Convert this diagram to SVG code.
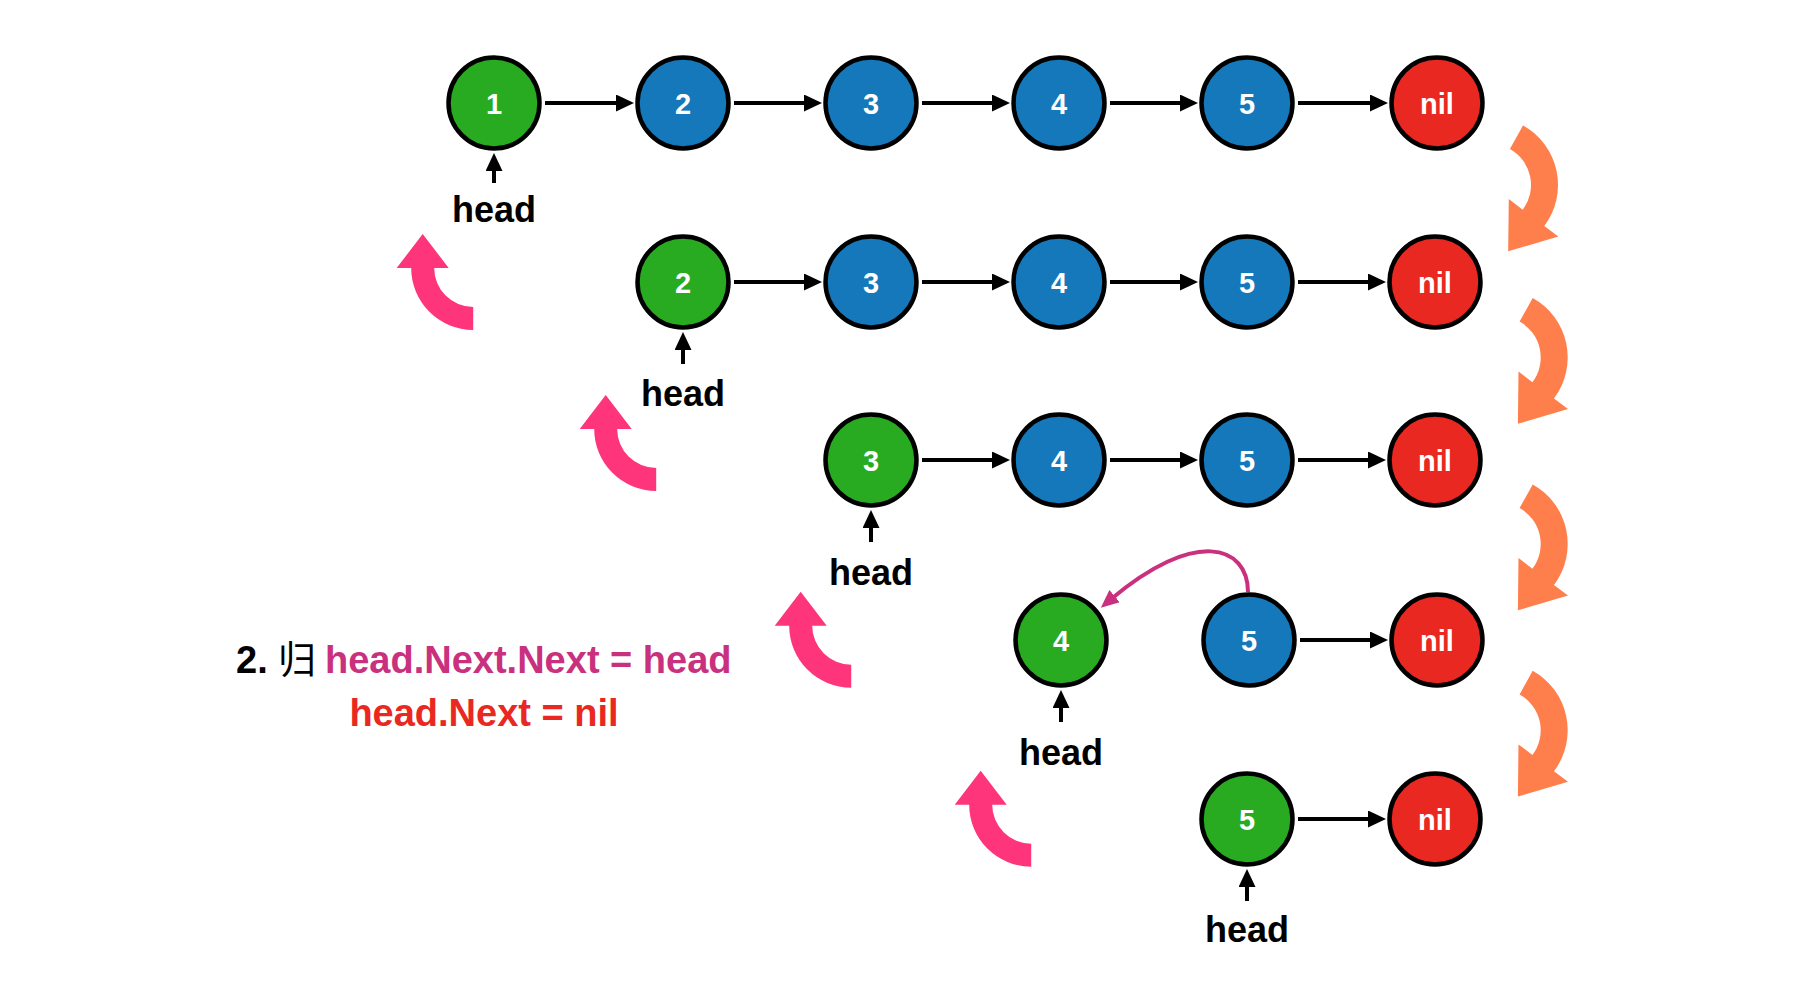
<svg xmlns="http://www.w3.org/2000/svg" width="1796" height="1006" viewBox="0 0 1796 1006">
<style>
.n{stroke:#000;stroke-width:4.5}
.g{fill:#28AB21}.b{fill:#1578BA}.r{fill:#EA2822}
.lbl{font-family:"Liberation Sans",Arial,sans-serif;font-weight:bold;font-size:29px;fill:#fff;text-anchor:middle}
.hd{font-family:"Liberation Sans",Arial,sans-serif;font-weight:bold;font-size:36px;fill:#000;text-anchor:middle}
.ln{stroke:#000;stroke-width:4;fill:none;marker-end:url(#ah)}
.cap{font-family:"Liberation Sans","Noto Sans CJK SC",sans-serif;font-weight:bold;font-size:38px}
</style>
<defs>
<marker id="ah" markerUnits="userSpaceOnUse" viewBox="0 0 18 17" markerWidth="18" markerHeight="17" refX="8" refY="8.5" orient="auto"><path d="M0,0 L18,8.5 L0,17 Z" fill="#000"/></marker>
<marker id="mh" markerUnits="userSpaceOnUse" viewBox="0 0 18 16" markerWidth="18" markerHeight="16" refX="6" refY="8" orient="auto"><path d="M0,0 L18,8 L0,16 Z" fill="#C9317F"/></marker>
<path id="pink" d="M0 0 L26 34 L11.5 34 A39 39 0 0 0 50.5 73 L50.5 96 A62 62 0 0 1 -11.5 34 L-26 34 Z" fill="#FE357B"/>
<path id="orng" d="M33 -59.5 A68 68 0 0 1 54.3 40.9 L68.3 51.5 L18.2 66.3 L18.8 14.1 L32.7 24.7 A41 41 0 0 0 19.9 -35.9 Z" fill="#FE7F4B"/>
</defs>
<rect width="1796" height="1006" fill="#fff"/>
<g id="connectors">
<line class="ln" x1="545" y1="103" x2="624" y2="103"/>
<line class="ln" x1="734" y1="103" x2="812" y2="103"/>
<line class="ln" x1="922" y1="103" x2="1000" y2="103"/>
<line class="ln" x1="1110" y1="103" x2="1188" y2="103"/>
<line class="ln" x1="1298" y1="103" x2="1378" y2="103"/>
<line class="ln" x1="734" y1="282" x2="812" y2="282"/>
<line class="ln" x1="922" y1="282" x2="1000" y2="282"/>
<line class="ln" x1="1110" y1="282" x2="1188" y2="282"/>
<line class="ln" x1="1298" y1="282" x2="1376" y2="282"/>
<line class="ln" x1="922" y1="460" x2="1000" y2="460"/>
<line class="ln" x1="1110" y1="460" x2="1188" y2="460"/>
<line class="ln" x1="1298" y1="460" x2="1376" y2="460"/>
<line class="ln" x1="1300" y1="640" x2="1378" y2="640"/>
<line class="ln" x1="1298" y1="819" x2="1376" y2="819"/>
<line class="ln" x1="494" y1="183" x2="494" y2="163"/>
<line class="ln" x1="683" y1="364" x2="683" y2="342"/>
<line class="ln" x1="871" y1="542" x2="871" y2="520"/>
<line class="ln" x1="1061" y1="722" x2="1061" y2="700"/>
<line class="ln" x1="1247" y1="901" x2="1247" y2="879"/>
<path d="M1248 592 C1248 545 1195 528 1110 600" fill="none" stroke="#C9317F" stroke-width="4" marker-end="url(#mh)"/>
</g>
<g id="back-arrows">
<use href="#pink" x="422.7" y="234"/>
<use href="#pink" x="605.7" y="395"/>
<use href="#pink" x="800.7" y="591.7"/>
<use href="#pink" x="980.7" y="770.7"/>
</g>
<g id="recurse-arrows">
<use href="#orng" x="1490" y="185"/>
<use href="#orng" x="1499.7" y="357.5"/>
<use href="#orng" x="1499.7" y="544"/>
<use href="#orng" x="1499.7" y="730.3"/>
</g>
<g id="row1">
<g id="r1n1"><circle class="n g" cx="494" cy="103" r="45.5"/><text class="lbl" x="494" y="113.5">1</text></g>
<g id="r1n2"><circle class="n b" cx="683" cy="103" r="45.5"/><text class="lbl" x="683" y="113.5">2</text></g>
<g id="r1n3"><circle class="n b" cx="871" cy="103" r="45.5"/><text class="lbl" x="871" y="113.5">3</text></g>
<g id="r1n4"><circle class="n b" cx="1059" cy="103" r="45.5"/><text class="lbl" x="1059" y="113.5">4</text></g>
<g id="r1n5"><circle class="n b" cx="1247" cy="103" r="45.5"/><text class="lbl" x="1247" y="113.5">5</text></g>
<g id="r1nil"><circle class="n r" cx="1437" cy="103" r="45.5"/><text class="lbl" x="1437" y="113.5">nil</text></g>
<text id="r1head" class="hd" x="494" y="222">head</text>
</g>
<g id="row2">
<g id="r2n2"><circle class="n g" cx="683" cy="282" r="45.5"/><text class="lbl" x="683" y="292.5">2</text></g>
<g id="r2n3"><circle class="n b" cx="871" cy="282" r="45.5"/><text class="lbl" x="871" y="292.5">3</text></g>
<g id="r2n4"><circle class="n b" cx="1059" cy="282" r="45.5"/><text class="lbl" x="1059" y="292.5">4</text></g>
<g id="r2n5"><circle class="n b" cx="1247" cy="282" r="45.5"/><text class="lbl" x="1247" y="292.5">5</text></g>
<g id="r2nil"><circle class="n r" cx="1435" cy="282" r="45.5"/><text class="lbl" x="1435" y="292.5">nil</text></g>
<text id="r2head" class="hd" x="683" y="406">head</text>
</g>
<g id="row3">
<g id="r3n3"><circle class="n g" cx="871" cy="460" r="45.5"/><text class="lbl" x="871" y="470.5">3</text></g>
<g id="r3n4"><circle class="n b" cx="1059" cy="460" r="45.5"/><text class="lbl" x="1059" y="470.5">4</text></g>
<g id="r3n5"><circle class="n b" cx="1247" cy="460" r="45.5"/><text class="lbl" x="1247" y="470.5">5</text></g>
<g id="r3nil"><circle class="n r" cx="1435" cy="460" r="45.5"/><text class="lbl" x="1435" y="470.5">nil</text></g>
<text id="r3head" class="hd" x="871" y="585">head</text>
</g>
<g id="row4">
<g id="r4n4"><circle class="n g" cx="1061" cy="640" r="45.5"/><text class="lbl" x="1061" y="650.5">4</text></g>
<g id="r4n5"><circle class="n b" cx="1249" cy="640" r="45.5"/><text class="lbl" x="1249" y="650.5">5</text></g>
<g id="r4nil"><circle class="n r" cx="1437" cy="640" r="45.5"/><text class="lbl" x="1437" y="650.5">nil</text></g>
<text id="r4head" class="hd" x="1061" y="765">head</text>
</g>
<g id="row5">
<g id="r5n5"><circle class="n g" cx="1247" cy="819" r="45.5"/><text class="lbl" x="1247" y="829.5">5</text></g>
<g id="r5nil"><circle class="n r" cx="1435" cy="819" r="45.5"/><text class="lbl" x="1435" y="829.5">nil</text></g>
<text id="r5head" class="hd" x="1247" y="942">head</text>
</g>
<g id="caption">
<text class="cap" x="236" y="673" fill="#000">2.</text>
<text class="cap" x="278" y="673" fill="#000" style="font-weight:normal">归</text>
<text class="cap" x="325" y="673" fill="#C9317F">head.Next.Next = head</text>
<text class="cap" x="484" y="726" fill="#EA2822" text-anchor="middle">head.Next = nil</text>
</g>
</svg>
